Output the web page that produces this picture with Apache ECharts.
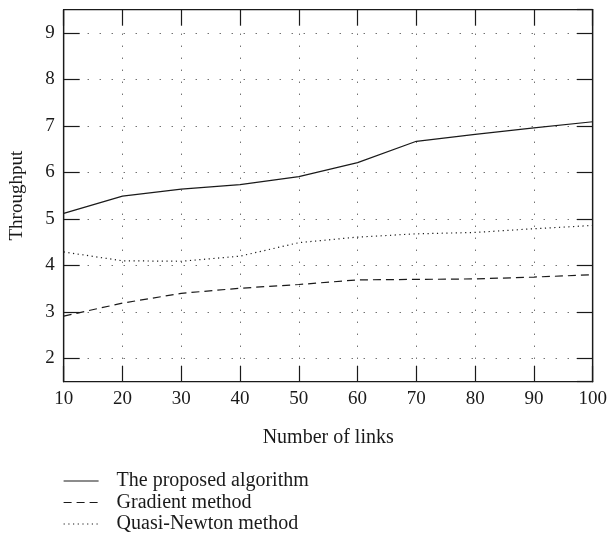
<!DOCTYPE html>
<html>
<head>
<meta charset="utf-8">
<script src="https://cdn.jsdelivr.net/npm/echarts@6/dist/echarts.min.js"></script>
<style>
  html, body { margin: 0; padding: 0; background: #fff; }
  #chart { width: 607px; height: 543px; }
</style>
</head>
<body>
<div id="chart"></div>
<script>
const xValues = [10, 20, 30, 40, 50, 60, 70, 80, 90, 100];
const proposed = [5.12, 5.49, 5.64, 5.74, 5.91, 6.21, 6.67, 6.82, 6.96, 7.09];
const gradient = [2.91, 3.19, 3.40, 3.51, 3.59, 3.69, 3.70, 3.71, 3.75, 3.80];
const quasiNewton = [4.29, 4.10, 4.09, 4.20, 4.49, 4.61, 4.68, 4.71, 4.79, 4.86];
const seriesNames = ['The proposed algorithm', 'Gradient method', 'Quasi-Newton method'];

const FONT = 'Liberation Serif';
const INK = '#1a1a1a';
const FS = 19;

function pairs(ys) { return xValues.map((x, i) => [x, ys[i]]); }

const chart = echarts.init(document.getElementById('chart'));
const dotted = { color: '#333', width: 1, type: [1, 11] };

chart.setOption({
  animation: false,
  backgroundColor: '#fff',
  textStyle: { fontFamily: FONT, color: INK },
  grid: { left: 63.7, right: 14.3, top: 9.7, bottom: 161.3, show: true, borderColor: INK, borderWidth: 1.2,
    containLabel: false, outerBoundsMode: 'none' },
  legend: {
    orient: 'vertical',
    left: 63,
    top: 471,
    height: 80,
    padding: 0,
    itemWidth: 35,
    itemHeight: 14,
    itemGap: 1.5,
    itemStyle: { opacity: 0 },
    lineStyle: { width: 1.2, color: INK },
    textStyle: { fontFamily: FONT, fontSize: 20, color: INK, padding: [0, 0, 0, 13] },
    data: seriesNames
  },
  xAxis: [{
    type: 'value', min: 10, max: 100, interval: 10,
    name: 'Number of links', nameLocation: 'middle', nameGap: 46,
    nameTextStyle: { fontFamily: FONT, fontSize: 20, color: INK },
    axisLine: { show: true, lineStyle: { color: INK, width: 1.2 } },
    axisTick: { show: true, inside: true, length: 16, lineStyle: { color: INK, width: 1.2 } },
    axisLabel: { fontFamily: FONT, fontSize: FS, color: INK, margin: 8 },
    splitLine: { show: true, lineStyle: dotted }
  }, {
    type: 'value', position: 'top', min: 10, max: 100, interval: 10,
    axisLine: { show: true, lineStyle: { color: INK, width: 1.2 } },
    axisTick: { show: true, inside: true, length: 16, lineStyle: { color: INK, width: 1.2 } },
    axisLabel: { show: false },
    splitLine: { show: false }
  }],
  yAxis: [{
    type: 'value', min: 1.5, max: 9.5, splitNumber: 8,
    name: 'Throughput', nameLocation: 'middle', nameGap: 37,
    nameTextStyle: { fontFamily: FONT, fontSize: FS, color: INK },
    axisLine: { show: true, lineStyle: { color: INK, width: 1.2 } },
    axisTick: { show: true, inside: true, length: 16, lineStyle: { color: INK, width: 1.2 } },
    axisLabel: { fontFamily: FONT, fontSize: FS, color: INK, margin: 9, showMinLabel: false, showMaxLabel: false,
      formatter: v => (Number.isInteger(v) ? String(v) : '') },
    splitLine: { show: true, lineStyle: dotted }
  }, {
    type: 'value', position: 'right', min: 1.5, max: 9.5, splitNumber: 8,
    axisLine: { show: true, lineStyle: { color: INK, width: 1.2 } },
    axisTick: { show: true, inside: true, length: 16, lineStyle: { color: INK, width: 1.2 } },
    axisLabel: { show: false },
    splitLine: { show: false }
  }],
  series: [
    { name: seriesNames[0], type: 'line', data: pairs(proposed), symbol: 'none',
      lineStyle: { color: INK, width: 1.2, type: 'solid' }, itemStyle: { color: INK } },
    { name: seriesNames[1], type: 'line', data: pairs(gradient), symbol: 'none',
      lineStyle: { color: INK, width: 1.2, type: [8, 5] }, itemStyle: { color: INK } },
    { name: seriesNames[2], type: 'line', data: pairs(quasiNewton), symbol: 'none',
      lineStyle: { color: INK, width: 1.2, type: [1.2, 3.5] }, itemStyle: { color: INK } }
  ]
});
</script>
</body>
</html>
